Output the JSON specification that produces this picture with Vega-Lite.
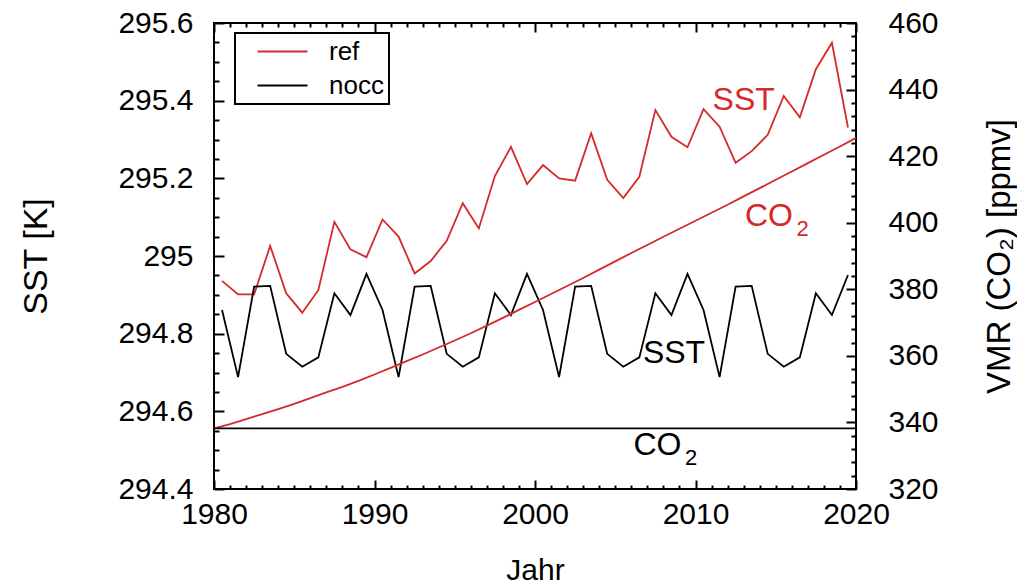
{
  "$schema": "https://vega.github.io/schema/vega-lite/v6.json",
  "width": 642,
  "height": 466,
  "autosize": "none",
  "padding": {"left": 214, "top": 23, "right": 161, "bottom": 98},
  "config": {
    "font": "Liberation Sans",
    "view": {"stroke": "black", "strokeWidth": 2},
    "axis": {
      "domain": false,
      "grid": false,
      "ticks": true,
      "labelFont": "Liberation Sans",
      "labelFontSize": 30,
      "labelColor": "black",
      "labelOverlap": false,
      "labelFlush": false,
      "titleFont": "Liberation Sans",
      "titleFontSize": 30,
      "titleFontWeight": "normal",
      "titleColor": "black",
      "tickColor": "black",
      "tickWidth": 2,
      "tickOpacity": 1,
      "zindex": 1
    },
    "legend": {"strokeWidth": 2}
  },
  "datasets": {
    "sst": [
      {"year": 1980.5, "run": "ref", "sst": 294.936},
      {"year": 1981.5, "run": "ref", "sst": 294.901},
      {"year": 1982.5, "run": "ref", "sst": 294.901},
      {"year": 1983.5, "run": "ref", "sst": 295.026},
      {"year": 1984.5, "run": "ref", "sst": 294.904},
      {"year": 1985.5, "run": "ref", "sst": 294.854},
      {"year": 1986.5, "run": "ref", "sst": 294.912},
      {"year": 1987.5, "run": "ref", "sst": 295.088},
      {"year": 1988.5, "run": "ref", "sst": 295.017},
      {"year": 1989.5, "run": "ref", "sst": 294.997},
      {"year": 1990.5, "run": "ref", "sst": 295.094},
      {"year": 1991.5, "run": "ref", "sst": 295.050},
      {"year": 1992.5, "run": "ref", "sst": 294.955},
      {"year": 1993.5, "run": "ref", "sst": 294.987},
      {"year": 1994.5, "run": "ref", "sst": 295.039},
      {"year": 1995.5, "run": "ref", "sst": 295.136},
      {"year": 1996.5, "run": "ref", "sst": 295.071},
      {"year": 1997.5, "run": "ref", "sst": 295.206},
      {"year": 1998.5, "run": "ref", "sst": 295.281},
      {"year": 1999.5, "run": "ref", "sst": 295.185},
      {"year": 2000.5, "run": "ref", "sst": 295.234},
      {"year": 2001.5, "run": "ref", "sst": 295.200},
      {"year": 2002.5, "run": "ref", "sst": 295.194},
      {"year": 2003.5, "run": "ref", "sst": 295.316},
      {"year": 2004.5, "run": "ref", "sst": 295.196},
      {"year": 2005.5, "run": "ref", "sst": 295.149},
      {"year": 2006.5, "run": "ref", "sst": 295.204},
      {"year": 2007.5, "run": "ref", "sst": 295.376},
      {"year": 2008.5, "run": "ref", "sst": 295.307},
      {"year": 2009.5, "run": "ref", "sst": 295.280},
      {"year": 2010.5, "run": "ref", "sst": 295.378},
      {"year": 2011.5, "run": "ref", "sst": 295.333},
      {"year": 2012.5, "run": "ref", "sst": 295.240},
      {"year": 2013.5, "run": "ref", "sst": 295.270},
      {"year": 2014.5, "run": "ref", "sst": 295.312},
      {"year": 2015.5, "run": "ref", "sst": 295.412},
      {"year": 2016.5, "run": "ref", "sst": 295.357},
      {"year": 2017.5, "run": "ref", "sst": 295.481},
      {"year": 2018.5, "run": "ref", "sst": 295.549},
      {"year": 2019.5, "run": "ref", "sst": 295.331},
      {"year": 1980.5, "run": "nocc", "sst": 294.861},
      {"year": 1981.5, "run": "nocc", "sst": 294.688},
      {"year": 1982.5, "run": "nocc", "sst": 294.921},
      {"year": 1983.5, "run": "nocc", "sst": 294.923},
      {"year": 1984.5, "run": "nocc", "sst": 294.748},
      {"year": 1985.5, "run": "nocc", "sst": 294.715},
      {"year": 1986.5, "run": "nocc", "sst": 294.739},
      {"year": 1987.5, "run": "nocc", "sst": 294.904},
      {"year": 1988.5, "run": "nocc", "sst": 294.848},
      {"year": 1989.5, "run": "nocc", "sst": 294.954},
      {"year": 1990.5, "run": "nocc", "sst": 294.861},
      {"year": 1991.5, "run": "nocc", "sst": 294.688},
      {"year": 1992.5, "run": "nocc", "sst": 294.921},
      {"year": 1993.5, "run": "nocc", "sst": 294.923},
      {"year": 1994.5, "run": "nocc", "sst": 294.748},
      {"year": 1995.5, "run": "nocc", "sst": 294.715},
      {"year": 1996.5, "run": "nocc", "sst": 294.739},
      {"year": 1997.5, "run": "nocc", "sst": 294.904},
      {"year": 1998.5, "run": "nocc", "sst": 294.848},
      {"year": 1999.5, "run": "nocc", "sst": 294.954},
      {"year": 2000.5, "run": "nocc", "sst": 294.861},
      {"year": 2001.5, "run": "nocc", "sst": 294.688},
      {"year": 2002.5, "run": "nocc", "sst": 294.921},
      {"year": 2003.5, "run": "nocc", "sst": 294.923},
      {"year": 2004.5, "run": "nocc", "sst": 294.748},
      {"year": 2005.5, "run": "nocc", "sst": 294.715},
      {"year": 2006.5, "run": "nocc", "sst": 294.739},
      {"year": 2007.5, "run": "nocc", "sst": 294.904},
      {"year": 2008.5, "run": "nocc", "sst": 294.848},
      {"year": 2009.5, "run": "nocc", "sst": 294.954},
      {"year": 2010.5, "run": "nocc", "sst": 294.861},
      {"year": 2011.5, "run": "nocc", "sst": 294.688},
      {"year": 2012.5, "run": "nocc", "sst": 294.921},
      {"year": 2013.5, "run": "nocc", "sst": 294.923},
      {"year": 2014.5, "run": "nocc", "sst": 294.748},
      {"year": 2015.5, "run": "nocc", "sst": 294.715},
      {"year": 2016.5, "run": "nocc", "sst": 294.739},
      {"year": 2017.5, "run": "nocc", "sst": 294.904},
      {"year": 2018.5, "run": "nocc", "sst": 294.848},
      {"year": 2019.5, "run": "nocc", "sst": 294.951}
    ],
    "co2": [
      {"year": 1980, "run": "ref", "co2": 338.2},
      {"year": 1981, "run": "ref", "co2": 339.5},
      {"year": 1982, "run": "ref", "co2": 341.0},
      {"year": 1983, "run": "ref", "co2": 342.5},
      {"year": 1984, "run": "ref", "co2": 344.0},
      {"year": 1985, "run": "ref", "co2": 345.6},
      {"year": 1986, "run": "ref", "co2": 347.3},
      {"year": 1987, "run": "ref", "co2": 349.0},
      {"year": 1988, "run": "ref", "co2": 350.7},
      {"year": 1989, "run": "ref", "co2": 352.5},
      {"year": 1990, "run": "ref", "co2": 354.4},
      {"year": 1991, "run": "ref", "co2": 356.4},
      {"year": 1992, "run": "ref", "co2": 358.4},
      {"year": 1993, "run": "ref", "co2": 360.4},
      {"year": 1994, "run": "ref", "co2": 362.5},
      {"year": 1995, "run": "ref", "co2": 364.6},
      {"year": 1996, "run": "ref", "co2": 366.8},
      {"year": 1997, "run": "ref", "co2": 369.1},
      {"year": 1998, "run": "ref", "co2": 371.4},
      {"year": 1999, "run": "ref", "co2": 373.8},
      {"year": 2000, "run": "ref", "co2": 376.2},
      {"year": 2001, "run": "ref", "co2": 378.6},
      {"year": 2002, "run": "ref", "co2": 381.0},
      {"year": 2003, "run": "ref", "co2": 383.4},
      {"year": 2004, "run": "ref", "co2": 385.9},
      {"year": 2005, "run": "ref", "co2": 388.4},
      {"year": 2006, "run": "ref", "co2": 390.9},
      {"year": 2007, "run": "ref", "co2": 393.3},
      {"year": 2008, "run": "ref", "co2": 395.8},
      {"year": 2009, "run": "ref", "co2": 398.2},
      {"year": 2010, "run": "ref", "co2": 400.6},
      {"year": 2011, "run": "ref", "co2": 403.0},
      {"year": 2012, "run": "ref", "co2": 405.4},
      {"year": 2013, "run": "ref", "co2": 407.9},
      {"year": 2014, "run": "ref", "co2": 410.4},
      {"year": 2015, "run": "ref", "co2": 412.9},
      {"year": 2016, "run": "ref", "co2": 415.4},
      {"year": 2017, "run": "ref", "co2": 417.9},
      {"year": 2018, "run": "ref", "co2": 420.4},
      {"year": 2019, "run": "ref", "co2": 422.9},
      {"year": 2020, "run": "ref", "co2": 425.5},
      {"year": 1980, "run": "nocc", "co2": 338.2},
      {"year": 2020, "run": "nocc", "co2": 338.2}
    ],
    "sstLabels": [
      {"year": 2013.0, "sst": 295.402, "label": "SST", "run": "ref"},
      {"year": 2008.66, "sst": 294.751, "label": "SST", "run": "nocc"}
    ],
    "co2Labels": [
      {"year": 2014.58, "co2": 401.9, "label": "CO", "run": "ref"},
      {"year": 2007.63, "co2": 333.2, "label": "CO", "run": "nocc"}
    ],
    "co2Subscripts": [
      {"year": 2016.67, "co2": 398.25, "label": "2", "run": "ref"},
      {"year": 2009.72, "co2": 329.2, "label": "2", "run": "nocc"}
    ]
  },
  "layer": [
    {
      "data": {"name": "sst"},
      "mark": {"type": "line", "strokeWidth": 1.8},
      "encoding": {
        "x": {
          "field": "year",
          "type": "quantitative",
          "scale": {"domain": [1980, 2020], "nice": false, "zero": false},
          "axis": {
            "orient": "bottom",
            "title": "Jahr",
            "values": [1980, 1990, 2000, 2010, 2020],
            "format": "d",
            "offset": -9,
            "tickSize": 9,
            "labelPadding": 10,
            "titlePadding": 26
          }
        },
        "y": {
          "field": "sst",
          "type": "quantitative",
          "scale": {"domain": [294.4, 295.6], "nice": false, "zero": false},
          "axis": {
            "orient": "left",
            "title": "SST [K]",
            "titleFontSize": 34,
            "values": [294.4, 294.6, 294.8, 295.0, 295.2, 295.4, 295.6],
            "labelExpr": "format(datum.value, '~f')",
            "offset": -10,
            "tickSize": 10,
            "labelPadding": 21,
            "titlePadding": 64
          }
        },
        "color": {
          "field": "run",
          "type": "nominal",
          "scale": {"domain": ["ref", "nocc"], "range": ["#d42a2a", "black"]},
          "legend": {
            "title": null,
            "orient": "none",
            "legendX": 21,
            "legendY": 10,
            "strokeColor": "black",
            "padding": 5,
            "symbolType": "M-2,0H2",
            "symbolSize": 625,
            "symbolStrokeWidth": 1.8,
            "symbolOffset": 29,
            "labelOffset": 33,
            "labelFontSize": 26,
            "labelFont": "Liberation Sans",
            "labelColor": "black",
            "rowPadding": 7
          }
        }
      }
    },
    {
      "data": {"name": "sstLabels"},
      "mark": {"type": "text", "fontSize": 32, "align": "center", "baseline": "middle"},
      "encoding": {
        "x": {
          "field": "year",
          "type": "quantitative",
          "scale": {"domain": [1980, 2020], "nice": false, "zero": false},
          "axis": {
            "orient": "bottom",
            "title": null,
            "labels": false,
            "values": [1981, 1982, 1983, 1984, 1985, 1986, 1987, 1988, 1989, 1991, 1992, 1993, 1994, 1995, 1996, 1997, 1998, 1999, 2001, 2002, 2003, 2004, 2005, 2006, 2007, 2008, 2009, 2011, 2012, 2013, 2014, 2015, 2016, 2017, 2018, 2019],
            "offset": -4,
            "tickSize": 4
          }
        },
        "y": {
          "field": "sst",
          "type": "quantitative",
          "scale": {"domain": [294.4, 295.6], "nice": false, "zero": false},
          "axis": {
            "orient": "left",
            "title": null,
            "labels": false,
            "values": [294.45, 294.5, 294.55, 294.65, 294.7, 294.75, 294.85, 294.9, 294.95, 295.05, 295.1, 295.15, 295.25, 295.3, 295.35, 295.45, 295.5, 295.55],
            "offset": -5,
            "tickSize": 5
          }
        },
        "text": {"field": "label"},
        "color": {"field": "run", "type": "nominal", "scale": {"domain": ["ref", "nocc"], "range": ["#d42a2a", "black"]}}
      }
    },
    {
      "data": {"name": "co2"},
      "mark": {"type": "line", "strokeWidth": 1.8},
      "encoding": {
        "x": {
          "field": "year",
          "type": "quantitative",
          "scale": {"domain": [1980, 2020], "nice": false, "zero": false},
          "axis": {
            "orient": "top",
            "title": null,
            "labels": false,
            "values": [1980, 1990, 2000, 2010, 2020],
            "offset": -9,
            "tickSize": 9
          }
        },
        "y": {
          "field": "co2",
          "type": "quantitative",
          "scale": {"domain": [320, 460], "nice": false, "zero": false},
          "axis": {
            "orient": "right",
            "title": "VMR (CO₂) [ppmv]",
            "titleFontSize": 33,
            "titleAngle": -90,
            "values": [320, 340, 360, 380, 400, 420, 440, 460],
            "offset": -10,
            "tickSize": 10,
            "labelPadding": 32,
            "titlePadding": 78
          }
        },
        "color": {"field": "run", "type": "nominal", "scale": {"domain": ["ref", "nocc"], "range": ["#d42a2a", "black"]}}
      }
    },
    {
      "data": {"name": "co2Labels"},
      "mark": {"type": "text", "fontSize": 32, "align": "center", "baseline": "middle"},
      "encoding": {
        "x": {
          "field": "year",
          "type": "quantitative",
          "scale": {"domain": [1980, 2020], "nice": false, "zero": false},
          "axis": {
            "orient": "top",
            "title": null,
            "labels": false,
            "values": [1981, 1982, 1983, 1984, 1985, 1986, 1987, 1988, 1989, 1991, 1992, 1993, 1994, 1995, 1996, 1997, 1998, 1999, 2001, 2002, 2003, 2004, 2005, 2006, 2007, 2008, 2009, 2011, 2012, 2013, 2014, 2015, 2016, 2017, 2018, 2019],
            "offset": -4,
            "tickSize": 4
          }
        },
        "y": {
          "field": "co2",
          "type": "quantitative",
          "scale": {"domain": [320, 460], "nice": false, "zero": false},
          "axis": {
            "orient": "right",
            "title": null,
            "labels": false,
            "values": [324, 328, 332, 336, 344, 348, 352, 356, 364, 368, 372, 376, 384, 388, 392, 396, 404, 408, 412, 416, 424, 428, 432, 436, 444, 448, 452, 456],
            "offset": -5,
            "tickSize": 5
          }
        },
        "text": {"field": "label"},
        "color": {"field": "run", "type": "nominal", "scale": {"domain": ["ref", "nocc"], "range": ["#d42a2a", "black"]}}
      }
    },
    {
      "data": {"name": "co2Subscripts"},
      "mark": {"type": "text", "fontSize": 22, "align": "center", "baseline": "middle"},
      "encoding": {
        "x": {
          "field": "year",
          "type": "quantitative",
          "scale": {"domain": [1980, 2020], "nice": false, "zero": false},
          "axis": null
        },
        "y": {
          "field": "co2",
          "type": "quantitative",
          "scale": {"domain": [320, 460], "nice": false, "zero": false},
          "axis": null
        },
        "text": {"field": "label"},
        "color": {"field": "run", "type": "nominal", "scale": {"domain": ["ref", "nocc"], "range": ["#d42a2a", "black"]}}
      }
    }
  ],
  "resolve": {"scale": {"x": "independent", "y": "independent"}}
}
